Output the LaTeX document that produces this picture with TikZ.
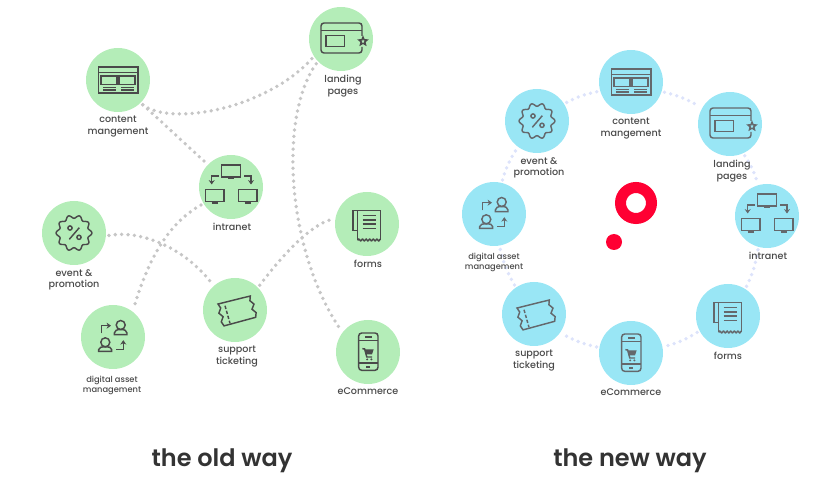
\documentclass[tikz,border=0pt]{standalone}
\usepackage{fontspec}
\setmainfont{Poppins}
\newfontfamily\labfont{Poppins Medium}
\newfontfamily\headfont{Poppins SemiBold}
\definecolor{Oldfill}{RGB}{180,237,184}
\definecolor{Newfill}{RGB}{153,230,245}
\definecolor{Oldlink}{RGB}{198,198,198}
\definecolor{Newlink}{RGB}{221,227,251}
\definecolor{Ink}{RGB}{74,74,74}
\definecolor{Softink}{RGB}{100,104,108}
\definecolor{Micored}{RGB}{255,0,51}
\usetikzlibrary{positioning, arrows.meta}

\tikzset{
  cmsicon/.pic={
    \draw (-19.5,-13) rectangle (20,13);
    \draw (-19.5,-7.5) -- (20,-7.5);
    \draw (-17,-4) rectangle (-1,4.3);
    \draw (1,-4) rectangle (17,4.3);
    \draw (-15,7.5) -- (-2.5,7.5) (-15,10) -- (-2.5,10);
    \draw (3,7.5) -- (16,7.5) (3,10) -- (16,10);
  },
  pageicon/.pic={
    \draw[rounded corners=3pt] (21,-3) -- (21,-16) -- (-20,-16) -- (-20,14) -- (21,14) -- (21,8);
    \draw (-20,-8.7) -- (21,-8.7);
    \draw (-15,-3.7) rectangle (3.3,7.3);
    \draw (22,-1.9) -- (23.1,0.8) -- (26,1) -- (23.8,2.9) -- (24.5,5.7) -- (22,4.2)
      -- (19.5,5.7) -- (20.2,2.9) -- (18,1) -- (20.9,0.8) -- cycle;
  },
  neticon/.pic={
    \foreach \mx/\my in {0/-22, -16.4/2.6, 16.6/2.6} {
      \draw (\mx-9.3,\my) rectangle (\mx+9.3,\my+11.8);
      \draw[line width=1.5pt] (\mx-3,\my+13.4) -- (\mx+3,\my+13.4);
    }
    \draw[pointer] (-12,-11) -- (-19.3,-11) -- (-19.3,-2.5);
    \draw[pointer] (13,-11) -- (20,-11) -- (20,-2.5);
  },
  usersicon/.pic={
    \draw (7.7,-12) circle (4.5);
    \draw (1.3,-2.3) -- (1.3,-4) .. controls (1.3,-6.5) and (4,-7.5) .. (7.7,-7.5)
      .. controls (11.4,-7.5) and (14,-6.5) .. (14,-4) -- (14,-2.3) -- cycle;
    \draw (-7.7,5.3) circle (4.5);
    \draw (-14.3,14.3) -- (-14.3,12.6) .. controls (-14.3,10.4) and (-11.4,9.8) .. (-7.7,9.8)
      .. controls (-4,9.8) and (-1.3,10.4) .. (-1.3,12.6) -- (-1.3,14.3) -- cycle;
    \draw[pointer] (-11.7,-3.7) -- (-11.7,-11.3) -- (-2,-11.3);
    \draw[pointer] (3.3,12.7) -- (10.3,12.7) -- (10.3,3.2);
  },
  badgeicon/.pic={
    \draw plot[domain=0:360, samples=121, smooth]
      ({(16.3+1.6*cos(10*\x))*cos(\x)}, {(16.3+1.6*cos(10*\x))*sin(\x)}) -- cycle;
    \draw (-4.7,6.3) -- (5.3,-5.3);
    \draw (-4,-5) circle (2.1);
    \draw (5,4.3) circle (2.1);
  },
  ticketicon/.pic={
    \draw (-17,-6) -- (15.3,-14) -- (14.9,-9.3) -- (19,-5.9) -- (17,-0.8) -- (21.1,2.6)
      -- (20.7,7.3) -- (-11,15.9) -- (-13.7,11.9) -- (-11.9,6.7) -- (-16.1,3.2) -- (-14.3,-2) -- cycle;
    \draw[dash pattern=on 3.4pt off 1.8pt] (-10,-4.3) -- (-5,13.3);
  },
  formicon/.pic={
    \draw (-14,6.7) -- (-14,-13.3) -- (13.3,-13.3) -- (13.3,16);
    \draw (-14,6.7) -- (-9.3,6.7);
    \draw (-9.3,-13.3) -- (-9.3,16);
    \draw plot[domain=-9.3:13.3, samples=41, smooth] (\x, {16+0.9*sin(\x*100)});
    \foreach \ly in {-8.3,-4,0,4.3} { \draw (-4.3,\ly) -- (9,\ly); }
  },
  phoneicon/.pic={
    \draw[rounded corners=3pt] (-9.3,-19) rectangle (10,18.3);
    \draw (-9.3,-11.7) -- (10,-11.7) (-9.3,11) -- (10,11);
    \draw (-2.7,-15) -- (4,-15) (-1.7,15) -- (2.3,15);
    \draw (-5.7,-3.3) -- (-3.4,-3.1) -- (-1.2,5) -- (4.2,5);
    \fill (-3.4,-2.7) -- (5.7,-2.7) -- (4,2.3) -- (-2,2.3) -- cycle;
    \fill (-0.8,7.4) circle (1.1) (3.4,7.4) circle (1.1);
  }
}

\begin{document}
\begin{tikzpicture}[x=1pt, y=-1pt,
    oldcirc/.style={circle, fill=Oldfill, minimum size=64pt, inner sep=0pt, outer sep=3pt},
    newcirc/.style={circle, fill=Newfill, minimum size=64pt, inner sep=0pt, outer sep=3pt},
    oldlink/.style={draw=Oldlink, line width=3.8pt, line cap=round, dash pattern=on 0pt off 6.4pt},
    newlink/.style={draw=Newlink, line width=3.8pt, line cap=round, dash pattern=on 0pt off 6.4pt},
    oldicon/.style={color=Ink, line width=1.45pt},
    newicon/.style={color=Softink, line width=1.45pt},
    pointer/.style={-{Stealth[length=4.4pt, width=6pt]}},
    caplab/.style={font=\fontsize{9.6}{11.7}\selectfont\labfont, text=Ink, align=center, inner sep=0pt},
    smalllab/.style={font=\fontsize{8.3}{10.3}\selectfont\labfont, text=Ink, align=center, inner sep=0pt},
    headlab/.style={font=\fontsize{24}{30}\selectfont\headfont, text=black!80, inner sep=0pt}]

  \useasboundingbox (0,0) rectangle (831,481);

  %--- the old way: circles ---
  \node[oldcirc] (ocontent) at (118,80)  {};
  \node[oldcirc] (olanding) at (341,39)  {};
  \node[oldcirc] (ointra)   at (231,187) {};
  \node[oldcirc] (oevent)   at (74,233)  {};
  \node[oldcirc] (oassets)  at (113,337) {};
  \node[oldcirc] (osupport) at (235,310) {};
  \node[oldcirc] (oforms)   at (367,224) {};
  \node[oldcirc] (oshop)    at (368,352) {};

  %--- the old way: links ---
  \draw[oldlink] (ocontent.-45) .. controls +(28,22) and +(-45,50) .. (olanding.-146);
  \draw[oldlink] (ocontent.-45) .. controls +(20,18) and +(-22,-20) .. (ointra.136);
  \draw[oldlink] (ointra.211) .. controls +(-33,18) and +(14,-48) .. (oassets.54);
  \draw[oldlink] (oevent.-4) .. controls +(34,-6) and +(-26,-34) .. (osupport.131);
  \draw[oldlink] (osupport.45) .. controls +(18,-24) and +(-24,6) .. (oforms.172);
  \draw[oldlink] (olanding.225) .. controls +(-38,53) and +(-54,-79) .. (oshop.141);

  %--- the new way: circles ---
  \node[newcirc] (ncontent) at (631,82)  {};
  \node[newcirc] (nlanding) at (730,124) {};
  \node[newcirc] (nintra)   at (767,216) {};
  \node[newcirc] (nforms)   at (728,316) {};
  \node[newcirc] (nshop)    at (631,353) {};
  \node[newcirc] (nsupport) at (534,314) {};
  \node[newcirc] (nassets)  at (494,214) {};
  \node[newcirc] (nevent)   at (537,121) {};

  %--- the new way: links ---
  \draw[newlink] (ncontent.-17) to[bend left=8] (nlanding.150);
  \draw[newlink] (nlanding.-65) to[bend left=8] (nintra.106);
  \draw[newlink] (nintra.-105) to[bend left=8] (nforms.58);
  \draw[newlink] (nforms.208) to[bend left=8] (nshop.11);
  \draw[newlink] (nshop.170) to[bend left=8] (nsupport.-35);
  \draw[newlink] (nsupport.124) to[bend left=8] (nassets.-80);
  \draw[newlink] (nassets.76) to[bend left=8] (nevent.234);
  \draw[newlink] (nevent.32) to[bend left=8] (ncontent.196);

  %--- icons ---
  \pic[oldicon] at (ocontent) {cmsicon};
  \pic[oldicon] at (olanding) {pageicon};
  \pic[oldicon] at (ointra)   {neticon};
  \pic[oldicon] at (oevent)   {badgeicon};
  \pic[oldicon] at (oassets)  {usersicon};
  \pic[oldicon] at (osupport) {ticketicon};
  \pic[oldicon] at (oforms)   {formicon};
  \pic[oldicon] at (oshop)    {phoneicon};
  \pic[newicon] at (ncontent) {cmsicon};
  \pic[newicon] at (nlanding) {pageicon};
  \pic[newicon] at (nintra)   {neticon};
  \pic[newicon] at (nevent)   {badgeicon};
  \pic[newicon] at (nassets)  {usersicon};
  \pic[newicon] at (nsupport) {ticketicon};
  \pic[newicon] at (nforms)   {formicon};
  \pic[newicon] at (nshop)    {phoneicon};

  %--- labels ---
  \node[caplab, below=1pt of ocontent]               (ocontentlab) {content\\mangement};
  \node[caplab, below=1pt of olanding, xshift=2pt]   (olandinglab) {landing\\pages};
  \node[caplab, below=1pt of ointra, xshift=1pt]     (ointralab)   {intranet};
  \node[caplab, below=1pt of oevent]                 (oeventlab)   {event \&\\promotion};
  \node[smalllab, below=4pt of oassets, xshift=-1pt] (oassetslab)  {digital asset\\management};
  \node[caplab, below=1pt of osupport, xshift=2pt]   (osupportlab) {support\\ticketing};
  \node[caplab, below=1pt of oforms, xshift=1pt]     (oformslab)   {forms};
  \node[caplab, below=1pt of oshop]                  (oshoplab)    {eCommerce};

  \node[caplab, below=1pt of ncontent]               (ncontentlab) {content\\mangement};
  \node[caplab, below=1pt of nlanding, xshift=2pt]   (nlandinglab) {landing\\pages};
  \node[caplab, below=1pt of nintra, xshift=1pt]     (nintralab)   {intranet};
  \node[caplab, below=1pt of nforms]                 (nformslab)   {forms};
  \node[caplab, below=1pt of nshop]                  (nshoplab)    {eCommerce};
  \node[caplab, below=1pt of nsupport]               (nsupportlab) {support\\ticketing};
  \node[smalllab, below=4pt of nassets]              (nassetslab)  {digital asset\\management};
  \node[caplab, below=1pt of nevent, xshift=2pt]     (neventlab)   {event \&\\promotion};

  %--- red mark ---
  \node[circle, draw=Micored, line width=11pt, minimum size=31pt, inner sep=0pt, outer sep=0pt] (ring) at (636,203) {};
  \node[circle, fill=Micored, minimum size=16pt, inner sep=0pt] (dot) at (614,242) {};

  %--- headings ---
  \node[headlab] (oldway) at (222,461) {the old way};
  \node[headlab] (newway) at (630,461) {the new way};
\end{tikzpicture}
\end{document}
